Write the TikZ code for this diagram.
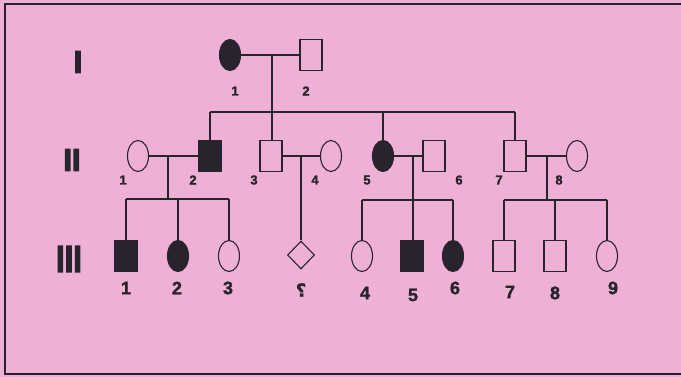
\documentclass[tikz,border=0pt]{standalone}
\usepackage{fontspec}
\setmainfont{Liberation Sans}
\newfontfamily\labfont[BoldFeatures={FakeBold=1.5}]{Liberation Sans}
\newfontfamily\genfont[BoldFeatures={FakeBold=4}]{Liberation Sans}
\newfontfamily\arabicfont[Script=Arabic,BoldFeatures={FakeBold=1.5}]{DejaVu Sans}
\usetikzlibrary{shapes.geometric}
\definecolor{bgpink}{RGB}{238,176,212}
\definecolor{inkgray}{RGB}{40,36,46}

\tikzset{
	male/.style={draw=inkgray,line width=1.1pt,rectangle,minimum width=22pt,minimum height=31pt,inner sep=0pt},
	female/.style={draw=inkgray,line width=1.1pt,ellipse,minimum width=21pt,minimum height=31pt,inner sep=0pt},
	unknown/.style={draw=inkgray,line width=1.1pt,diamond,minimum width=27pt,minimum height=28pt,inner sep=0pt},
	affected/.style={fill=inkgray},
	link/.style={draw=inkgray,line width=1.4pt},
	smalllab/.style={inner sep=0pt,font=\labfont\fontsize{13}{13}\selectfont\bfseries,text=inkgray},
	biglab/.style={inner sep=0pt,font=\labfont\fontsize{18}{18}\selectfont\bfseries,text=inkgray},
	genlab/.style={inner sep=0pt,font=\genfont\fontsize{31}{31}\selectfont\bfseries,text=inkgray}
}

\begin{document}
\begin{tikzpicture}[x=1pt,y=1pt,yscale=-1,xscale=1]
	\useasboundingbox (0,0) rectangle (681,377);
	\fill[bgpink] (0,0) rectangle (681,377);
	%frame
	\draw[inkgray,line width=1.5pt] (681,4) -- (5,4) -- (5,374) -- (681,374);
	
	%generation numbers
	\node[genlab] (genI) at (78,62) {I};
	\node[genlab] (genII) at (72,160) {II};
	\node[genlab,yscale=1.2] (genIII) at (69,259) {III};
	
	%generation I
	\node[female,affected] (i1) at (230,55) {};
	\node[male] (i2) at (311,55) {};
	%generation II
	\node[female] (ii1) at (138,156) {};
	\node[male,affected] (ii2) at (210,156) {};
	\node[male] (ii3) at (271,156) {};
	\node[female] (ii4) at (331,156) {};
	\node[female,affected] (ii5) at (383,156) {};
	\node[male] (ii6) at (434,156) {};
	\node[male] (ii7) at (515,156) {};
	\node[female] (ii8) at (577,156) {};
	%generation III
	\node[male,affected] (iii1) at (126,256) {};
	\node[female,affected] (iii2) at (178,256) {};
	\node[female] (iii3) at (229,256) {};
	\node[unknown] (q) at (301,255) {};
	\node[female] (iii4) at (362,256) {};
	\node[male,affected] (iii5) at (412,256) {};
	\node[female,affected] (iii6) at (453,256) {};
	\node[male] (iii7) at (504,256) {};
	\node[male] (iii8) at (555,256) {};
	\node[female] (iii9) at (607,256) {};
	
	%marriage lines
	\draw[link] (i1) -- (i2);
	\draw[link] (ii1) -- (ii2);
	\draw[link] (ii3) -- (ii4);
	\draw[link] (ii5) -- (ii6);
	\draw[link] (ii7) -- (ii8);
	
	%descent lines
	\coordinate (mI) at (272,55);
	\coordinate (sibI) at (272,112);
	\draw[link] (mI) -- (mI |- ii3.north);
	\draw[link] (ii2.north |- sibI) -- (ii7.north |- sibI);
	\draw[link] (ii2.north |- sibI) -- (ii2.north);
	\draw[link] (ii5.north |- sibI) -- (ii5.north);
	\draw[link] (ii7.north |- sibI) -- (ii7.north);
	
	\coordinate (mA) at (168,156);
	\coordinate (sibA) at (168,199);
	\draw[link] (mA) -- (sibA);
	\draw[link] (iii1.north |- sibA) -- (iii3.north |- sibA);
	\draw[link] (iii1.north |- sibA) -- (iii1.north);
	\draw[link] (iii2.north |- sibA) -- (iii2.north);
	\draw[link] (iii3.north |- sibA) -- (iii3.north);
	
	\coordinate (mB) at (301,156);
	\draw[link] (mB) -- (q.north);
	
	\coordinate (mC) at (413,156);
	\coordinate (sibC) at (413,200);
	\draw[link] (mC) -- (mC |- iii5.north);
	\draw[link] (iii4.north |- sibC) -- (iii6.north |- sibC);
	\draw[link] (iii4.north |- sibC) -- (iii4.north);
	\draw[link] (iii6.north |- sibC) -- (iii6.north);
	
	\coordinate (mD) at (547,156);
	\coordinate (sibD) at (547,200);
	\draw[link] (mD) -- (sibD);
	\draw[link] (iii7.north |- sibD) -- (iii9.north |- sibD);
	\draw[link] (iii7.north |- sibD) -- (iii7.north);
	\draw[link] (iii8.north |- sibD) -- (iii8.north);
	\draw[link] (iii9.north |- sibD) -- (iii9.north);
	
	%labels
	\node[smalllab] (l-i1) at (235,91) {1};
	\node[smalllab] (l-i2) at (306,91) {2};
	\node[smalllab] (l-ii1) at (123,180) {1};
	\node[smalllab] (l-ii2) at (193,180) {2};
	\node[smalllab] (l-ii3) at (254,180) {3};
	\node[smalllab] (l-ii4) at (315,180) {4};
	\node[smalllab] (l-ii5) at (367,180) {5};
	\node[smalllab] (l-ii6) at (459,180) {6};
	\node[smalllab] (l-ii7) at (499,180) {7};
	\node[smalllab] (l-ii8) at (559,180) {8};
	\node[biglab] (l-iii1) at (126,288) {1};
	\node[biglab] (l-iii2) at (177,288) {2};
	\node[biglab] (l-iii3) at (228,288) {3};
	\node[biglab,font=\arabicfont\fontsize{18}{18}\selectfont\bfseries] (l-q) at (301,290) {؟};
	\node[biglab] (l-iii4) at (365,293) {4};
	\node[biglab] (l-iii5) at (413,295) {5};
	\node[biglab] (l-iii6) at (455,288) {6};
	\node[biglab] (l-iii7) at (510,292) {7};
	\node[biglab] (l-iii8) at (555,293) {8};
	\node[biglab] (l-iii9) at (613,288) {9};
\end{tikzpicture}
\end{document}
